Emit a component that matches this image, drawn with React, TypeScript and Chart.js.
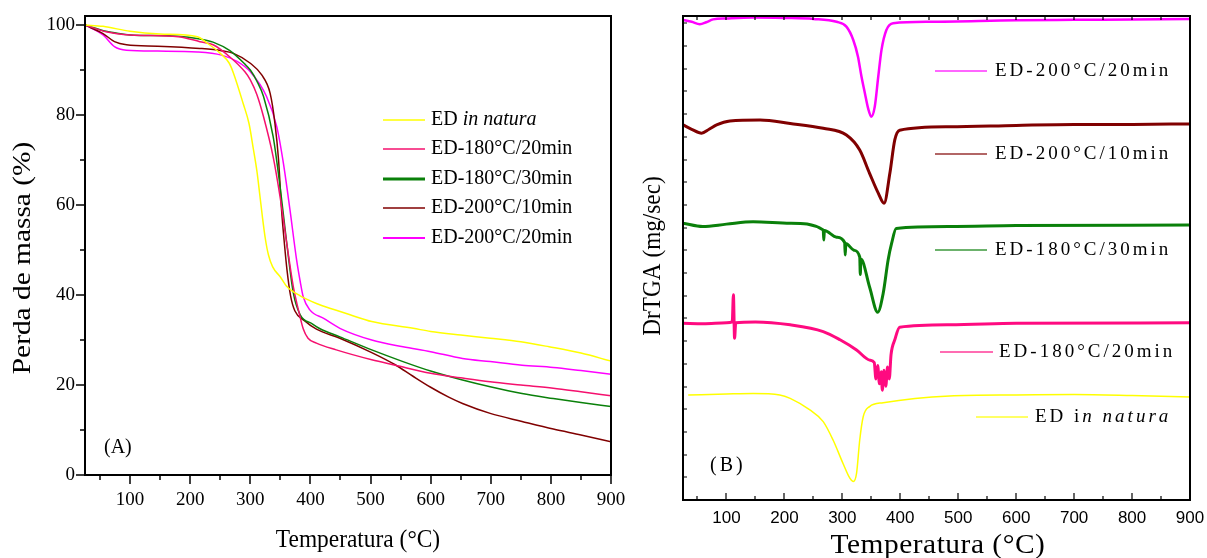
import React, { useEffect, useRef } from 'react';
import { Chart, registerables } from 'chart.js';

Chart.register(...registerables);

const SERIF = '"Liberation Serif", "Times New Roman", serif';
const SANS = '"Liberation Sans", Arial, sans-serif';

// ---------- Series names ----------
const nameNatura = 'ED in natura';
const name180_20 = 'ED-180°C/20min';
const name180_30 = 'ED-180°C/30min';
const name200_10 = 'ED-200°C/10min';
const name200_20 = 'ED-200°C/20min';

// ---------- Panel A: TGA, mass (%) vs temperature (°C) ----------
const aNaturaT = [25, 55, 100, 150, 212, 228, 250, 265, 272, 288, 298, 305, 311, 316, 320, 325, 330, 337, 350, 360, 383, 410, 443, 466, 502, 571, 600, 650, 699, 750, 797, 850, 900];
const aNaturaV = [100, 99.7, 98.6, 98.0, 97.4, 96.0, 93.7, 91.5, 89.3, 82.6, 78.0, 72.5, 67.5, 62.0, 57.5, 52.5, 49.0, 46.3, 44.0, 42.0, 39.8, 38.1, 36.6, 35.6, 34.1, 32.6, 31.9, 31.1, 30.4, 29.6, 28.5, 27.1, 25.3];

const a180_20T = [25, 60, 100, 180, 216, 238, 266, 291, 300, 311, 322, 338, 349.5, 360.6, 371.6, 380, 388, 396, 410, 443, 502, 541, 600, 650, 699, 750, 804, 850, 900];
const a180_20V = [100, 98.5, 97.8, 97.4, 96.3, 95.6, 92.9, 89.6, 87.8, 84.5, 79.6, 70.7, 61.8, 51.5, 41.8, 36.7, 32.5, 30.4, 29.3, 27.8, 25.6, 24.4, 22.6, 21.6, 20.7, 20.0, 19.3, 18.5, 17.6];

const a180_30T = [25, 60, 81, 100, 180, 216, 238, 266, 291, 300, 311, 322, 338, 349.5, 360.6, 371.6, 383, 403, 416, 449, 502, 554, 600, 653, 699, 752, 804, 850, 900];
const a180_30V = [100, 98.6, 98.1, 97.8, 97.5, 96.9, 96.2, 94.3, 91.3, 90.0, 87.5, 84.1, 75.2, 64.1, 51.5, 40.4, 35.6, 33.6, 32.5, 30.7, 27.8, 25.2, 23.1, 21.1, 19.6, 18.1, 17.0, 16.1, 15.2];

const a200_10T = [25, 55, 74, 94, 146, 216, 252, 272, 300, 319, 333, 341, 347, 352, 357, 361, 367, 374, 390, 410, 449, 502, 541, 570, 600, 630, 653, 699, 752, 804, 850, 900];
const a200_10V = [100, 98.1, 96.3, 95.6, 95.3, 94.8, 94.3, 93.7, 91.5, 88.9, 84.8, 78.1, 70.0, 58.9, 51.0, 45.6, 39.8, 36.5, 34.3, 32.4, 30.4, 27.2, 24.5, 22.0, 19.5, 17.3, 15.9, 13.7, 11.9, 10.2, 8.9, 7.4];

const a200_20T = [25, 55, 74, 94, 146, 212, 252, 278, 300, 327, 344, 355, 366, 377, 383, 388, 399, 422, 449, 502, 554, 600, 653, 699, 752, 804, 850, 900];
const a200_20V = [100, 97.8, 95.2, 94.4, 94.2, 94.0, 93.3, 91.9, 89.6, 84.1, 77.4, 69.3, 58.9, 47.8, 43.0, 39.6, 36.7, 34.8, 32.6, 30.0, 28.5, 27.4, 25.9, 25.2, 24.4, 23.9, 23.2, 22.4];

// ---------- Panel B: DrTGA (offset curves, arbitrary units) ----------
const b200_20T = [25, 40, 54, 65, 77, 100, 146, 200, 250, 290, 307, 319, 327, 333, 339, 344.5, 350, 356, 362, 367.6, 376, 387.6, 450, 600, 700, 800, 900];
const b200_20V = [99.2, 98.8, 98.3, 98.7, 99.3, 99.5, 99.7, 99.6, 99.4, 98.8, 97.8, 95.0, 91.6, 87.5, 84.0, 80.9, 79.2, 81.3, 87.5, 93.0, 97.1, 98.5, 98.8, 99.1, 99.2, 99.3, 99.4];

const b200_10T = [25, 40, 57, 70, 83, 106, 158, 210, 267, 307, 330, 347, 362, 372, 382, 390.5, 399, 485, 600, 700, 800, 900];
const b200_10V = [77.5, 76.6, 75.8, 76.6, 77.5, 78.3, 78.5, 77.8, 76.8, 75.4, 72.3, 67.5, 63.4, 61.3, 67.5, 74.4, 76.4, 77.1, 77.4, 77.6, 77.6, 77.7];

const b180_30T = [25, 59, 100, 146, 210, 267, 268, 269, 290, 304, 305, 306, 320, 330, 331, 332, 347, 361, 370.5, 379, 385, 393, 485, 600, 900];
const b180_30V = [57.2, 56.5, 57.0, 57.5, 57.2, 55.8, 53.7, 55.7, 54.3, 53.2, 50.6, 53.0, 51.6, 50.2, 46.6, 49.8, 44.0, 38.8, 42.7, 49.6, 53.0, 56.1, 56.5, 56.7, 56.8];

const b180_20T = [25, 60, 100, 110, 112, 114, 116, 150, 210, 267, 296, 324.5, 347, 355, 358, 361, 364, 367, 369, 372, 375, 378, 381, 384, 390.5, 399, 485, 600, 900];
const b180_20V = [36.5, 36.4, 36.6, 36.8, 42.4, 33.4, 36.6, 36.8, 36.2, 34.8, 33.1, 31.0, 28.9, 28.4, 25.0, 27.8, 24.0, 26.5, 22.7, 26.8, 23.5, 27.5, 25.0, 30.0, 33.1, 35.7, 36.2, 36.5, 36.6];

const bNaturaT = [34, 100, 146, 192, 210, 244, 267, 284, 301, 313, 319, 324.5, 330, 336, 347, 370.5, 485, 600, 700, 800, 900];
const bNaturaV = [21.7, 21.9, 22.0, 21.7, 21.0, 18.6, 16.2, 12.4, 7.6, 4.5, 3.8, 5.5, 12.4, 17.2, 19.3, 20.1, 21.5, 21.7, 21.8, 21.6, 21.3];

// ---------- Tick labels ----------
const xTickValues = [100, 200, 300, 400, 500, 600, 700, 800, 900];
const yTickValuesA = [0, 20, 40, 60, 80, 100];

// ---------- Colours ----------
const cYellow = '#ffff00';
const cPink = '#f5106e';
const cGreen = '#0a800a';
const cMaroon = '#800000';
const cMagenta = '#ff00ff';
const cPinkB = '#ff0a80';

type Part = { t: string; italic?: boolean };

function labelParts(name: string, panelB: boolean): Part[] {
  if (name === nameNatura) {
    return panelB ? [{ t: 'ED i' }, { t: 'n natura', italic: true }] : [{ t: 'ED ' }, { t: 'in natura', italic: true }];
  }
  return [{ t: name }];
}

function drawParts(
  ctx: CanvasRenderingContext2D,
  parts: Part[],
  x: number,
  y: number,
  size: number,
  opts: { family?: string; align?: 'left' | 'center'; spacing?: number; sx?: number; rotate?: boolean; color?: string } = {}
) {
  ctx.save();
  ctx.translate(x, y);
  if (opts.rotate) ctx.rotate(-Math.PI / 2);
  ctx.scale(opts.sx ?? 1, 1);
  ctx.textBaseline = 'middle';
  ctx.textAlign = 'left';
  ctx.fillStyle = opts.color ?? '#000';
  (ctx as any).letterSpacing = `${opts.spacing ?? 0}px`;
  const fam = opts.family ?? SERIF;
  const fonts = parts.map((p) => `${p.italic ? 'italic ' : ''}${size}px ${fam}`);
  const widths = parts.map((p, i) => {
    ctx.font = fonts[i];
    return ctx.measureText(p.t).width;
  });
  const total = widths.reduce((a, b) => a + b, 0);
  let cx = opts.align === 'center' ? -total / 2 : 0;
  parts.forEach((p, i) => {
    ctx.font = fonts[i];
    ctx.fillText(p.t, cx, 0);
    cx += widths[i];
  });
  ctx.restore();
}

function pts(t: number[], v: number[]) {
  return t.map((x, i) => ({ x, y: v[i] }));
}

function ds(label: string, t: number[], v: number[], color: string, width: number) {
  return {
    label,
    data: pts(t, v),
    borderColor: color,
    backgroundColor: color,
    borderWidth: width,
    pointRadius: 0,
    fill: false,
    cubicInterpolationMode: 'monotone' as const,
  };
}

const decorA = {
  id: 'decorA',
  afterDraw(chart: any) {
    const { ctx, chartArea: a, scales } = chart;
    const x = scales.x;
    const y = scales.y;
    ctx.save();
    ctx.strokeStyle = '#000';
    ctx.lineWidth = 2;
    ctx.strokeRect(a.left, a.top, a.right - a.left, a.bottom - a.top);
    ctx.lineWidth = 1.5;
    ctx.beginPath();
    for (let v = 50; v <= 900; v += 50) {
      const px = Math.round(x.getPixelForValue(v));
      const len = v % 100 === 0 ? 9 : 5;
      ctx.moveTo(px, a.bottom);
      ctx.lineTo(px, a.bottom + len);
    }
    for (let v = 0; v <= 100; v += 10) {
      const py = Math.round(y.getPixelForValue(v));
      const len = v % 20 === 0 ? 9 : 5;
      ctx.moveTo(a.left - len, py);
      ctx.lineTo(a.left, py);
    }
    ctx.stroke();

    // legend
    const rows = [120, 149, 179, 208, 238];
    chart.data.datasets.forEach((d: any, i: number) => {
      const yy = rows[i];
      ctx.strokeStyle = d.borderColor;
      ctx.lineWidth = d.label === name180_30 ? 3 : d.label === name200_20 ? 2 : 1.5;
      ctx.beginPath();
      ctx.moveTo(383, yy);
      ctx.lineTo(425, yy);
      ctx.stroke();
      drawParts(ctx, labelParts(d.label, false), 431, yy, 20);
    });

    drawParts(ctx, [{ t: '(A)' }], 104, 448, 20);
    drawParts(ctx, [{ t: 'Temperatura (°C)' }], 358, 540, 26, { align: 'center', sx: 0.9 });
    drawParts(ctx, [{ t: 'Perda de massa (%)' }], 23, 258, 26, { align: 'center', sx: 1.13, rotate: true });
    ctx.restore();
  },
};

const decorB = {
  id: 'decorB',
  afterDraw(chart: any) {
    const { ctx, chartArea: a, scales } = chart;
    const x = scales.x;
    ctx.save();
    ctx.strokeStyle = '#000';
    ctx.lineWidth = 2;
    ctx.strokeRect(a.left, a.top, a.right - a.left, a.bottom - a.top);
    ctx.lineWidth = 1.2;
    ctx.beginPath();
    for (let v = 50; v <= 900; v += 50) {
      const px = Math.round(x.getPixelForValue(v));
      const len = v % 100 === 0 ? 7 : 4;
      ctx.moveTo(px, a.bottom);
      ctx.lineTo(px, a.bottom - len);
      ctx.moveTo(px, a.top);
      ctx.lineTo(px, a.top + 4);
    }
    for (let py = a.bottom - 22.7; py > a.top + 5; py -= 22.7) {
      ctx.moveTo(a.left, Math.round(py));
      ctx.lineTo(a.left + 4, Math.round(py));
    }
    ctx.stroke();

    // legend (drawn top to bottom)
    const items = [
      { name: name200_20, color: cMagenta, x0: 935, x1: 987, tx: 995, y: 71 },
      { name: name200_10, color: cMaroon, x0: 935, x1: 987, tx: 995, y: 154 },
      { name: name180_30, color: cGreen, x0: 935, x1: 987, tx: 995, y: 250 },
      { name: name180_20, color: cPinkB, x0: 940, x1: 993, tx: 999, y: 352 },
      { name: nameNatura, color: cYellow, x0: 976, x1: 1028, tx: 1035, y: 417 },
    ];
    items.forEach((it) => {
      ctx.strokeStyle = it.color;
      ctx.globalAlpha = 0.8;
      ctx.lineWidth = 1.5;
      ctx.beginPath();
      ctx.moveTo(it.x0, it.y);
      ctx.lineTo(it.x1, it.y);
      ctx.stroke();
      ctx.globalAlpha = 1;
      drawParts(ctx, labelParts(it.name, true), it.tx, it.y, 19, { spacing: 3 });
    });

    drawParts(ctx, [{ t: '(B)' }], 710, 466, 20, { spacing: 3 });
    drawParts(ctx, [{ t: 'Temperatura (°C)' }], 938, 546, 28, { align: 'center', sx: 1.05, spacing: 0.5 });
    drawParts(ctx, [{ t: 'DrTGA (mg/sec)' }], 653, 256, 25, { align: 'center', sx: 0.93, rotate: true });
    ctx.restore();
  },
};

export default function App() {
  const refA = useRef<HTMLCanvasElement>(null);
  const refB = useRef<HTMLCanvasElement>(null);

  useEffect(() => {
    const xTickBuild = (s: any) => {
      s.ticks = xTickValues.map((value) => ({ value }));
    };

    const chartA = new Chart(refA.current as HTMLCanvasElement, {
      type: 'line',
      data: {
        datasets: [
          ds(nameNatura, aNaturaT, aNaturaV, cYellow, 1.5),
          ds(name180_20, a180_20T, a180_20V, cPink, 1.5),
          ds(name180_30, a180_30T, a180_30V, cGreen, 1.5),
          ds(name200_10, a200_10T, a200_10V, cMaroon, 1.5),
          ds(name200_20, a200_20T, a200_20V, cMagenta, 1.5),
        ],
      },
      options: {
        responsive: false,
        animation: false,
        events: [],
        layout: { padding: { left: 0, top: 16, right: 1207 - 611, bottom: 0 } },
        plugins: { legend: { display: false }, tooltip: { enabled: false }, title: { display: false } },
        scales: {
          x: {
            type: 'linear',
            min: 25,
            max: 900,
            afterBuildTicks: xTickBuild,
            afterFit: (s: any) => {
              s.height = 83;
              s.paddingLeft = 0;
              s.paddingRight = 0;
            },
            grid: { display: false, drawTicks: false },
            border: { display: false },
            ticks: { color: '#000', font: { family: SERIF, size: 19 }, padding: 14, maxRotation: 0, autoSkip: false },
          },
          y: {
            type: 'linear',
            min: 0,
            max: 102,
            afterBuildTicks: (s: any) => {
              s.ticks = yTickValuesA.map((value) => ({ value }));
            },
            afterFit: (s: any) => {
              s.width = 85;
              s.paddingTop = 0;
              s.paddingBottom = 0;
            },
            grid: { display: false, drawTicks: false },
            border: { display: false },
            ticks: { color: '#000', font: { family: SERIF, size: 19 }, padding: 10, autoSkip: false },
          },
        },
      } as any,
      plugins: [decorA],
    });

    const chartB = new Chart(refB.current as HTMLCanvasElement, {
      type: 'line',
      data: {
        datasets: [
          ds(name200_20, b200_20T, b200_20V, cMagenta, 2.5),
          ds(name200_10, b200_10T, b200_10V, cMaroon, 3),
          ds(name180_30, b180_30T, b180_30V, cGreen, 3),
          ds(name180_20, b180_20T, b180_20V, cPinkB, 3),
          ds(nameNatura, bNaturaT, bNaturaV, cYellow, 1.5),
        ],
      },
      options: {
        responsive: false,
        animation: false,
        events: [],
        layout: { padding: { left: 0, top: 16, right: 17, bottom: 0 } },
        plugins: { legend: { display: false }, tooltip: { enabled: false }, title: { display: false } },
        scales: {
          x: {
            type: 'linear',
            min: 25,
            max: 900,
            afterBuildTicks: xTickBuild,
            afterFit: (s: any) => {
              s.height = 58;
              s.paddingLeft = 0;
              s.paddingRight = 0;
            },
            grid: { display: false, drawTicks: false },
            border: { display: false },
            ticks: { color: '#000', font: { family: SANS, size: 17 }, padding: 8, maxRotation: 0, autoSkip: false },
          },
          y: {
            type: 'linear',
            min: 0,
            max: 100,
            afterFit: (s: any) => {
              s.width = 683;
              s.paddingTop = 0;
              s.paddingBottom = 0;
            },
            grid: { display: false, drawTicks: false },
            border: { display: false },
            ticks: { display: false },
          },
        },
      } as any,
      plugins: [decorB],
    });

    return () => {
      chartA.destroy();
      chartB.destroy();
    };
  }, []);

  return (
    <div style={{ position: 'absolute', left: 0, top: 0, width: 1207, height: 558, background: '#fff', overflow: 'hidden' }}>
      <canvas ref={refA} width={1207} height={558} style={{ position: 'absolute', left: 0, top: 0 }} />
      <canvas ref={refB} width={1207} height={558} style={{ position: 'absolute', left: 0, top: 0 }} />
    </div>
  );
}
